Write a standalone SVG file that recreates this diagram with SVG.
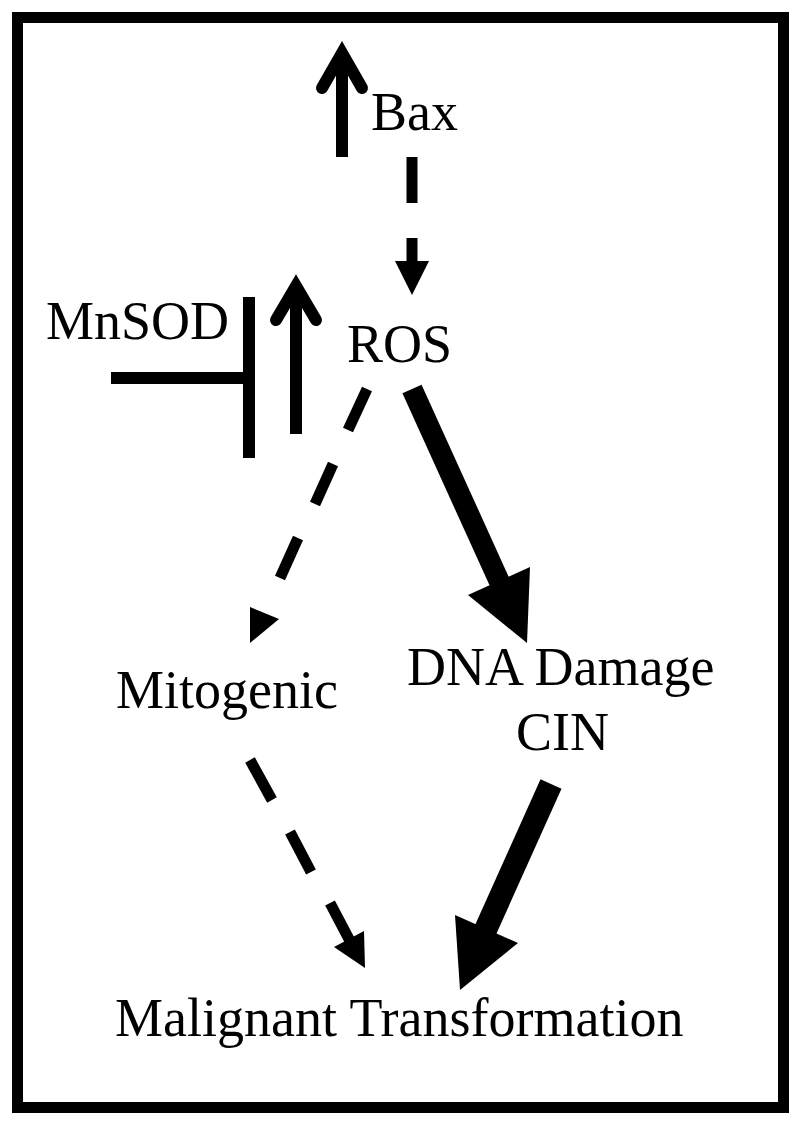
<svg xmlns="http://www.w3.org/2000/svg" width="800" height="1123" viewBox="0 0 800 1123">
<style>
.lbl{font-family:"Liberation Serif","Times New Roman",serif;font-size:54px;fill:#000}
.ln{stroke:#000;fill:none;stroke-linecap:butt}
.chev{stroke:#000;fill:none;stroke-width:12;stroke-linecap:round;stroke-linejoin:miter;stroke-miterlimit:10}
.hd{fill:#000;stroke:none}
</style>
<rect x="0" y="0" width="800" height="1123" fill="#fff"/>
<rect id="frame" x="17.5" y="17.5" width="766" height="1090" fill="none" stroke="#000" stroke-width="11"/>
<g id="node-bax"><text class="lbl" x="371" y="130">Bax</text></g>
<g id="node-mnsod"><text class="lbl" x="229" y="339" text-anchor="end">MnSOD</text></g>
<g id="node-ros"><text class="lbl" x="347" y="362">ROS</text></g>
<g id="node-mitogenic"><text class="lbl" x="116" y="708">Mitogenic</text></g>
<g id="node-dna"><text class="lbl" x="407" y="685">DNA Damage</text><text class="lbl" x="516" y="750">CIN</text></g>
<g id="node-malignant"><text class="lbl" x="115" y="1036">Malignant Transformation</text></g>
<g id="connectors">
  <!-- Bax up arrow -->
  <line class="ln" x1="342" y1="157" x2="342" y2="56" stroke-width="12"/>
  <polyline class="chev" points="322,88 342,53 362,88"/>
  <!-- ROS up arrow -->
  <line class="ln" x1="296" y1="434" x2="296" y2="289" stroke-width="12"/>
  <polyline class="chev" points="276,320 296,286 316,320"/>
  <!-- MnSOD inhibition -->
  <line class="ln" x1="111" y1="378" x2="249" y2="378" stroke-width="12"/>
  <line class="ln" x1="249" y1="297" x2="249" y2="458" stroke-width="12"/>
  <!-- Bax -> ROS dashed -->
  <line class="ln" x1="412" y1="157" x2="412" y2="203" stroke-width="11"/>
  <line class="ln" x1="412" y1="238" x2="412" y2="262" stroke-width="11"/>
  <polygon class="hd" points="395,261 429,261 412,295"/>
  <!-- ROS -> Mitogenic dashed -->
  <line class="ln" x1="367" y1="389" x2="348" y2="430" stroke-width="11"/>
  <line class="ln" x1="333" y1="464" x2="315" y2="504" stroke-width="11"/>
  <line class="ln" x1="298" y1="538" x2="280" y2="578" stroke-width="11"/>
  <polygon class="hd" points="250,607 279,619 250,643"/>
  <!-- ROS -> DNA Damage thick -->
  <line class="ln" x1="412" y1="389" x2="500" y2="583" stroke-width="21"/>
  <polygon class="hd" points="468,595 530,567 527,643"/>
  <!-- Mitogenic -> Malignant dashed -->
  <line class="ln" x1="250" y1="760" x2="272" y2="800" stroke-width="11"/>
  <line class="ln" x1="290" y1="832" x2="311" y2="872" stroke-width="11"/>
  <line class="ln" x1="330" y1="903" x2="350" y2="941" stroke-width="11"/>
  <polygon class="hd" points="334,947 364,931 365,968"/>
  <!-- CIN -> Malignant thick -->
  <line class="ln" x1="551" y1="784" x2="485" y2="931" stroke-width="23"/>
  <polygon class="hd" points="455,915 518,943 460,990"/>
</g>
</svg>
